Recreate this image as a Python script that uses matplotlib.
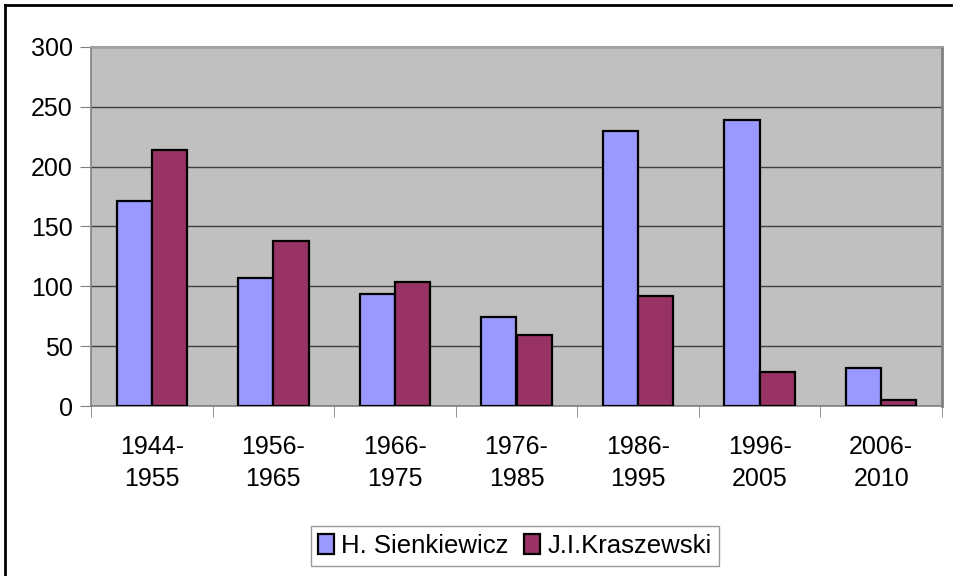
import matplotlib
matplotlib.use("Agg")
import matplotlib.pyplot as plt
import numpy as np
from matplotlib.lines import Line2D

categories = ["1944-\n1955", "1956-\n1965", "1966-\n1975", "1976-\n1985",
              "1986-\n1995", "1996-\n2005", "2006-\n2010"]
sienkiewicz = [171, 107, 94, 74, 230, 239, 32]
kraszewski = [214, 138, 104, 59, 92, 28, 5]
series_names = ["H. Sienkiewicz", "J.I.Kraszewski"]
yticks = [0, 50, 100, 150, 200, 250, 300]

plt.rcParams['font.family'] = ['Liberation Sans', 'DejaVu Sans']

fig = plt.figure(figsize=(9.54, 5.76), dpi=100)
W, H = 954, 576
ax = fig.add_axes([91 / W, 1 - 406 / H, (942 - 91) / W, (406 - 47) / H])
ax.set_facecolor("#C0C0C0")

x = np.arange(len(categories))
bw = 0.29
ax.bar(x - bw / 2, sienkiewicz, bw, color="#9999FF", edgecolor="black", linewidth=1.6,
       label=series_names[0], zorder=3)
ax.bar(x + bw / 2, kraszewski, bw, color="#993366", edgecolor="black", linewidth=1.6,
       label=series_names[1], zorder=3)

ax.set_xlim(-0.5, len(categories) - 0.5)
ax.set_ylim(0, 300)
ax.set_yticks(yticks)
ax.set_yticklabels([str(v) for v in yticks], fontsize=18)
ax.yaxis.grid(True, color="#404040", linewidth=1.0, zorder=1)
ax.set_axisbelow(True)

ax.set_xticks(x)
ax.set_xticklabels(categories, fontsize=18, linespacing=1.4)
ax.set_xticks(np.arange(-0.5, len(categories) + 0.5, 1), minor=True)
ax.tick_params(axis='x', which='major', length=0, pad=21)
ax.tick_params(axis='x', which='minor', length=8, color="#808080", direction='out')
ax.tick_params(axis='y', length=8, color="#808080", direction='out', pad=5)

for s in ["left", "bottom"]:
    ax.spines[s].set_color("#808080")
    ax.spines[s].set_linewidth(1.2)
ax.spines["right"].set_color("#808080")
ax.spines["right"].set_linewidth(2.0)
ax.spines["top"].set_color("#A0A0A0")
ax.spines["top"].set_linewidth(1.5)

leg = fig.legend(loc="center", bbox_to_anchor=(515 / W, 1 - 546 / H), ncol=2,
                 fontsize=18.5, frameon=True, fancybox=False, edgecolor="#808080",
                 handlelength=0.6, handleheight=0.8, handletextpad=0.3,
                 columnspacing=0.6, borderpad=0.3, borderaxespad=0)
leg.get_frame().set_linewidth(1.0)

fig.add_artist(Line2D([5 / W, 5 / W], [0, 1 - 5 / H], transform=fig.transFigure,
                      color="black", linewidth=2.0))
fig.add_artist(Line2D([5 / W, 1], [1 - 5 / H, 1 - 5 / H], transform=fig.transFigure,
                      color="black", linewidth=2.0))

fig.savefig("out.png", dpi=100)
